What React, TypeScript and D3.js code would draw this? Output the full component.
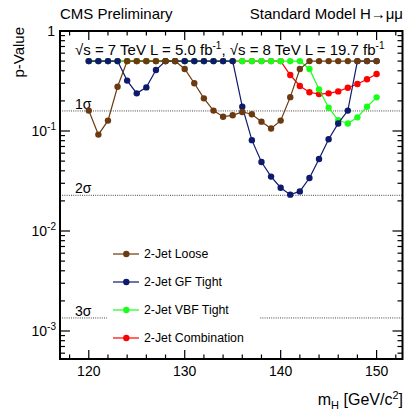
import React from "react";
import * as d3 from "d3";

const masses = [120,121,122,123,124,125,126,127,128,129,130,131,132,133,134,135,136,137,138,139,140,141,142,143,144,145,146,147,148,149,150];
const loose = [0.16,0.092,0.127,0.277,0.5,0.5,0.5,0.5,0.5,0.5,0.417,0.30,0.212,0.16,0.139,0.1435,0.155,0.147,0.124,0.106,0.127,0.218,0.417,0.5,0.5,0.5,0.5,0.5,0.5,0.5,0.5];
const gfTight = [0.5,0.5,0.5,0.5,0.319,0.238,0.273,0.407,0.5,0.5,0.5,0.5,0.5,0.5,0.5,0.5,0.175,0.081,0.049,0.035,0.0271,0.0231,0.0249,0.0339,0.0525,0.0826,0.119,0.16,0.5,0.5,0.5];
const vbfTight = [0.5,0.5,0.5,0.5,0.5,0.5,0.5,0.5,0.5,0.5,0.5,0.5,0.5,0.5,0.5,0.5,0.5,0.5,0.5,0.5,0.5,0.5,0.5,0.417,0.261,0.171,0.128,0.119,0.137,0.175,0.217];
const combination = [0.5,0.5,0.5,0.5,0.5,0.5,0.5,0.5,0.5,0.5,0.5,0.5,0.5,0.5,0.5,0.5,0.5,0.5,0.5,0.5,0.5,0.363,0.282,0.244,0.234,0.238,0.249,0.271,0.295,0.329,0.372];

const seriesNames = ["2-Jet Loose","2-Jet GF Tight","2-Jet VBF Tight","2-Jet Combination"];
const seriesColors = ["#6b3a10","#0d1a6e","#1aff1a","#ff0000"];
const seriesValues = [loose, gfTight, vbfTight, combination];

const xTicks = [120,130,140,150];
const sigmaLabels = ["1σ","2σ","3σ"];
const sigmaValues = [0.1587,0.02275,0.00135];
const yMajor = [1,0.1,0.01,0.001];
const yMajorExp = ["","-1","-2","-3"];

const W = 407, H = 413;
const L = 60, R = 402.5, T = 31, B = 359;
const FONT = "Liberation Sans, Arial, Helvetica, sans-serif";

export default function App() {
  const x = d3.scaleLinear().domain([117, 152.7]).range([L, R]);
  const y = d3.scaleLog().domain([1, Math.pow(10, -3.28)]).range([T, B]);
  const line = d3.line<[number, number]>().x(d => x(d[0])).y(d => y(d[1]));

  const xMinor: number[] = [];
  for (let v = 118; v <= 152; v += 2) if (v % 10 !== 0) xMinor.push(v);
  const yMinor: number[] = [];
  for (let e = -4; e <= -1; e++) for (let k = 2; k <= 9; k++) {
    const v = k * Math.pow(10, e);
    if (v >= Math.pow(10, -3.28) && v < 1) yMinor.push(v);
  }

  // draw order: combination (bottom), vbf, gf, loose (top)
  const order = [3, 2, 1, 0];
  const legendRows = [254, 282, 310, 338];

  return (
    <svg width={W} height={H} style={{ position: "absolute", left: 0, top: 0, background: "#fff" }} fontFamily={FONT}>
      <rect x={0} y={0} width={W} height={H} fill="#fff" />
      {/* sigma lines */}
      {sigmaValues.map((s, i) => (
        <g key={i}>
          <line x1={L} x2={R} y1={y(s)} y2={y(s)} stroke="#444" strokeWidth={1} strokeDasharray="1 1.2" />
          <text x={75} y={y(s) - 2} fontSize={14} fill="#000">{sigmaLabels[i]}</text>
        </g>
      ))}
      {/* series */}
      {order.map(i => {
        const pts: [number, number][] = masses.map((m, j) => [m, seriesValues[i][j]]);
        return (
          <g key={i}>
            <path d={line(pts) || ""} fill="none" stroke={seriesColors[i]} strokeWidth={1.2} />
            {pts.map((p, j) => (
              <circle key={j} cx={x(p[0])} cy={y(p[1])} r={3.2} fill={seriesColors[i]} />
            ))}
          </g>
        );
      })}
      {/* legend */}
      <rect x={107} y={240} width={152} height={112} fill="#fff" />
      {seriesNames.map((n, i) => (
        <g key={i}>
          <line x1={113} x2={139} y1={legendRows[i]} y2={legendRows[i]} stroke={seriesColors[i]} strokeWidth={1.2} />
          <circle cx={126.3} cy={legendRows[i]} r={3.2} fill={seriesColors[i]} />
          <text x={144} y={legendRows[i] + 4.3} fontSize={12.3} fill="#000">{n}</text>
        </g>
      ))}
      {/* frame */}
      <rect x={L} y={T} width={R - L} height={B - T} fill="none" stroke="#000" strokeWidth={2} />
      {/* x ticks */}
      {xTicks.map(v => (
        <g key={v}>
          <line x1={x(v)} x2={x(v)} y1={B} y2={B - 9} stroke="#000" strokeWidth={1.2} />
          <line x1={x(v)} x2={x(v)} y1={T} y2={T + 9} stroke="#000" strokeWidth={1.2} />
          <text x={x(v)} y={376} fontSize={14} textAnchor="middle">{v}</text>
        </g>
      ))}
      {xMinor.map(v => (
        <g key={v}>
          <line x1={x(v)} x2={x(v)} y1={B} y2={B - 4.5} stroke="#000" strokeWidth={1.2} />
          <line x1={x(v)} x2={x(v)} y1={T} y2={T + 4.5} stroke="#000" strokeWidth={1.2} />
        </g>
      ))}
      {/* y ticks */}
      {yMajor.map((v, i) => (
        <g key={v}>
          <line x1={L} x2={L + 10} y1={y(v)} y2={y(v)} stroke="#000" strokeWidth={1.2} />
          <line x1={R} x2={R - 10} y1={y(v)} y2={y(v)} stroke="#000" strokeWidth={1.2} />
          {i === 0 ? (
            <text x={55} y={y(v) + 5} fontSize={14} textAnchor="end">1</text>
          ) : (
            <text x={56} y={y(v) + 5} fontSize={14} textAnchor="end">
              10<tspan fontSize={10} dy={-6}>{yMajorExp[i]}</tspan>
            </text>
          )}
        </g>
      ))}
      {yMinor.map(v => (
        <g key={v}>
          <line x1={L} x2={L + 5} y1={y(v)} y2={y(v)} stroke="#000" strokeWidth={1.2} />
          <line x1={R} x2={R - 5} y1={y(v)} y2={y(v)} stroke="#000" strokeWidth={1.2} />
        </g>
      ))}
      {/* titles */}
      <text x={60} y={19} fontSize={15}>CMS Preliminary</text>
      <text x={403} y={19} fontSize={15} textAnchor="end">Standard Model H→μμ</text>
      <text x={75} y={55} fontSize={15}>
        √s = 7 TeV L = 5.0 fb<tspan fontSize={10} dy={-6}>-1</tspan><tspan dy={6}>, √s = 8 TeV L = 19.7 fb</tspan><tspan fontSize={10} dy={-6}>-1</tspan>
      </text>
      <text transform="translate(24,27) rotate(-90)" fontSize={15} textAnchor="end">p-Value</text>
      <text x={403} y={405} fontSize={16} textAnchor="end">
        m<tspan fontSize={11} dy={4}>H</tspan><tspan dy={-4}> [GeV/c</tspan><tspan fontSize={11} dy={-6}>2</tspan><tspan dy={6}>]</tspan>
      </text>
    </svg>
  );
}
